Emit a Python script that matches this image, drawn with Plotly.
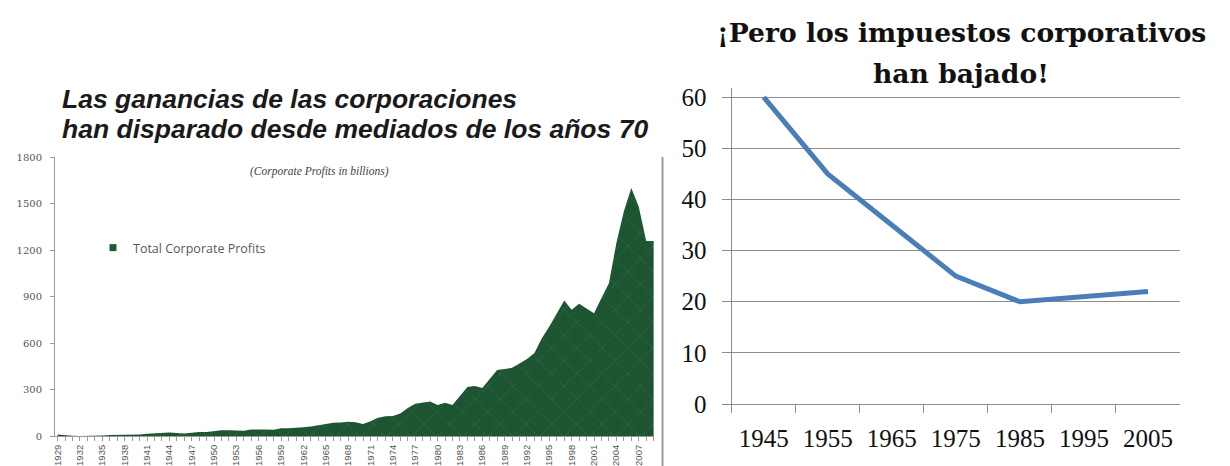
import plotly.graph_objects as go

# ---- Left chart data: Total Corporate Profits (billions), 1929-2009 ----
profit_years = list(range(1929, 2010))
profit_values = [
    10, 5, 2, 0, 0, 3, 4, 6, 7, 5,            # 1929-1938
    7, 9, 14, 18, 22, 23, 20, 16, 21, 26,      # 1939-1948
    26, 32, 37, 37, 35, 34, 42, 43, 42, 40,    # 1949-1958
    50, 50, 51, 56, 62, 69, 78, 86, 87, 92,    # 1959-1968
    88, 77, 95, 118, 127, 129, 145, 180, 208, 217,  # 1969-1978
    222, 200, 215, 200, 258, 316, 323, 310, 368, 426,  # 1979-1988
    432, 440, 468, 497, 536, 631, 706, 794, 874, 814,  # 1989-1998
    853, 823, 792, 890, 986, 1245, 1449, 1600, 1481, 1258,  # 1999-2008
    1258,                                       # 2009
]
profit_yticks = [0, 300, 600, 900, 1200, 1500, 1800]

# ---- Right chart data: corporate tax rate (%) ----
tax_years = ["1945", "1955", "1965", "1975", "1985", "1995", "2005"]
tax_rates = [60, 45, 35, 25, 20, 21, 22]
tax_yticks = [0, 10, 20, 30, 40, 50, 60]

# page has an 8px body margin: design in page pixels, convert to figure paper
OFF = 8
W, H = 1230 - OFF, 466 - OFF
def px(x):
    return (x - OFF) / W
def py(y):
    return 1 - (y - OFF) / H

fig = go.Figure()

fig.add_trace(go.Scatter(
    x=profit_years, y=profit_values, mode="lines", fill="tozeroy",
    line=dict(width=0, color="#1f5a33"),
    fillcolor="#1f5a33",
    fillpattern=dict(shape="x", fgcolor="#357a4b", bgcolor="#1d5431",
                     size=18, solidity=0.1),
    name="Total Corporate Profits", showlegend=False,
    xaxis="x", yaxis="y",
))
# legend entry (square swatch)
fig.add_trace(go.Scatter(
    x=[None], y=[None], mode="markers",
    marker=dict(symbol="square", size=7, color="#1f5a33"),
    name="Total Corporate Profits", showlegend=True,
    xaxis="x", yaxis="y",
))

fig.add_trace(go.Scatter(
    x=tax_years, y=tax_rates, mode="lines",
    line=dict(width=5, color="#4a7ebb"),
    showlegend=False, xaxis="x2", yaxis="y2",
))

axis_gray = "#9a9a9a"
fig.update_layout(
    width=W, height=H,
    margin=dict(l=0, r=0, t=0, b=0, autoexpand=False),
    paper_bgcolor="white", plot_bgcolor="white",
    xaxis=dict(
        domain=[px(55), px(654)], range=[1928.65, 2009.05],
        tick0=1929, dtick=3, tickangle=-90,
        ticks="outside", ticklen=4, tickcolor=axis_gray,
        showline=True, linecolor=axis_gray, linewidth=1,
        showgrid=False, zeroline=False, automargin=False,
        minor=dict(dtick=1, ticks="outside", ticklen=4, tickcolor=axis_gray, showgrid=False),
        tickfont=dict(family="Liberation Sans Narrow, Liberation Sans", size=9.5, color="#555555"),
        ticklabelstandoff=0,
    ),
    yaxis=dict(
        domain=[py(436), py(157)], range=[0, 1800],
        tickvals=profit_yticks,
        ticks="outside", ticklen=4, tickcolor=axis_gray,
        showline=True, linecolor=axis_gray, linewidth=1,
        showgrid=False, zeroline=False, automargin=False,
        tickfont=dict(family="DejaVu Serif", size=10, color="#555555"),
        ticklabelstandoff=6,
    ),
    xaxis2=dict(
        domain=[px(731.7), px(1180)], type="category", range=[-0.5, 6.5],
        tickson="boundaries", ticks="outside", ticklen=8, tickwidth=1.3,
        tickcolor="#8c8c8c",
        showline=True, linecolor="#8c8c8c", linewidth=1.3,
        showgrid=False, zeroline=False, automargin=False,
        tickfont=dict(family="Liberation Serif", size=25, color="#111111"),
        ticklabelstandoff=12,
        anchor="y2",
    ),
    yaxis2=dict(
        domain=[py(404), py(88)], range=[0, 61.8],
        tickvals=tax_yticks,
        ticks="outside", ticklen=9, tickwidth=1.3, tickcolor="#8c8c8c",
        showline=True, linecolor="#8c8c8c", linewidth=1.3,
        showgrid=True, gridcolor="#8c8c8c", gridwidth=1.3,
        zeroline=False, automargin=False,
        tickfont=dict(family="Liberation Serif", size=25, color="#111111"),
        ticklabelstandoff=10,
        anchor="x2",
    ),
    legend=dict(
        x=px(93), y=py(248), xanchor="left", yanchor="middle",
        bgcolor="rgba(0,0,0,0)", itemwidth=30,
        font=dict(family="Open Sans", size=12.5, color="#595959"),
        tracegroupgap=0,
    ),
    showlegend=True,
)

annotations = [
    dict(text="<i>(Corporate Profits in billions)</i>", x=px(319), y=py(171),
         xref="paper", yref="paper", xanchor="center", yanchor="middle",
         showarrow=False,
         font=dict(family="Liberation Serif", size=11.5, color="#444444")),
    # Spanish left title (two lines)
    dict(text="<b><i>Las ganancias de las corporaciones</i></b>",
         x=px(60), y=py(99), xref="paper", yref="paper", xanchor="left", yanchor="middle",
         align="left", showarrow=False,
         font=dict(family="Liberation Sans", size=26.5, color="#1a1a1a")),
    dict(text="<b><i>han disparado desde mediados de los años 70</i></b>",
         x=px(60), y=py(129), xref="paper", yref="paper", xanchor="left", yanchor="middle",
         align="left", showarrow=False,
         font=dict(family="Liberation Sans", size=26.5, color="#1a1a1a")),
    # right title (two lines)
    dict(text="<b>¡Pero los impuestos corporativos</b>",
         x=px(961), y=py(33), xref="paper", yref="paper", xanchor="center", yanchor="middle",
         showarrow=False,
         font=dict(family="DejaVu Serif", size=26.6, color="#111111")),
    dict(text="<b>han bajado!</b>",
         x=px(961), y=py(73), xref="paper", yref="paper", xanchor="center", yanchor="middle",
         showarrow=False,
         font=dict(family="DejaVu Serif", size=26.6, color="#111111")),
]
fig.update_layout(annotations=annotations)

fig.add_shape(type="line", xref="paper", yref="paper",
              x0=px(662.5), x1=px(662.5), y0=0, y1=py(157),
              line=dict(color="#9a9a9a", width=2))

fig.write_html("out.html")
